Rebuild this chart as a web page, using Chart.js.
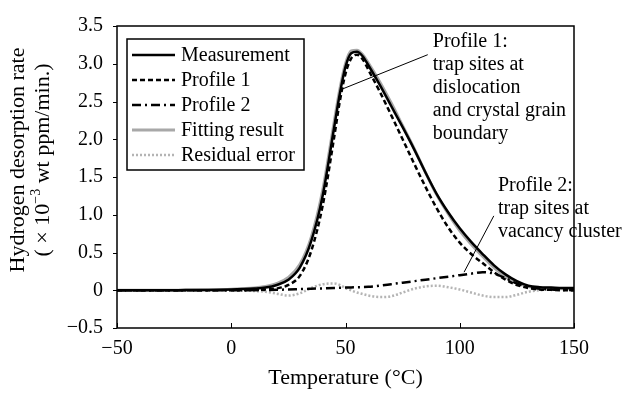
<!DOCTYPE html>
<html>
<head>
<meta charset="utf-8">
<script src="https://cdn.jsdelivr.net/npm/chart.js@4.4.1/dist/chart.umd.min.js"></script>
<style>
  html, body { margin: 0; padding: 0; background: #fff; }
  #wrap { width: 627px; height: 394px; }
</style>
</head>
<body>
<div id="wrap"><canvas id="tdsChart" width="627" height="394"></canvas></div>
<script>
// Temperature (°C)
const temperatures = [-50, -40, -30, -20, -10, 0, 5, 10, 15, 20, 25, 30, 35, 40, 45, 47.5, 50, 52.5, 55, 57.5,
    60, 65, 70, 75, 80, 85, 90, 95, 100, 105, 110, 115, 120, 125, 130, 135, 140, 145, 150];

// Hydrogen desorption rate (x10^-3 wt ppm/min.)
const measurement = [0, 0, 0, 0.002, 0.004, 0.01, 0.015, 0.022, 0.035, 0.07, 0.14, 0.3, 0.65, 1.25, 2.15, 2.6, 2.96, 3.14, 3.16, 3.1,
    2.98, 2.72, 2.44, 2.16, 1.87, 1.56, 1.27, 1.03, 0.82, 0.64, 0.48, 0.33, 0.21, 0.12, 0.06, 0.04, 0.035, 0.03, 0.03];
const profile1 = [0, 0, 0, 0, 0, 0, 0, 0.003, 0.01, 0.025, 0.07, 0.19, 0.52, 1.12, 2.02, 2.5, 2.87, 3.07, 3.12, 3.06,
    2.92, 2.63, 2.32, 2.0, 1.68, 1.37, 1.08, 0.83, 0.63, 0.48, 0.36, 0.24, 0.14, 0.07, 0.03, 0.01, 0.005, 0, 0];
const profile2 = [0, 0, 0, 0, 0, 0, 0, 0.002, 0.004, 0.006, 0.01, 0.015, 0.02, 0.025, 0.03, 0.032, 0.035, 0.037, 0.04, 0.042,
    0.045, 0.06, 0.08, 0.1, 0.12, 0.14, 0.16, 0.18, 0.2, 0.22, 0.24, 0.22, 0.16, 0.09, 0.04, 0.02, 0.01, 0.005, 0];
const fitting = [0, 0, 0, 0.002, 0.005, 0.012, 0.02, 0.03, 0.05, 0.09, 0.17, 0.34, 0.7, 1.32, 2.22, 2.66, 3.0, 3.17, 3.18, 3.12,
    3.01, 2.76, 2.48, 2.18, 1.88, 1.56, 1.26, 1.01, 0.79, 0.61, 0.45, 0.3, 0.18, 0.1, 0.05, 0.03, 0.025, 0.02, 0.02];
const residual = [0, 0, 0, 0, 0, 0, -0.005, -0.01, -0.02, -0.045, -0.07, -0.04, 0.03, 0.08, 0.09, 0.07, 0.03, 0, -0.03, -0.05,
    -0.07, -0.09, -0.08, -0.03, 0.02, 0.05, 0.06, 0.04, 0.01, -0.03, -0.07, -0.09, -0.09, -0.06, -0.02, 0, 0.01, 0.02, 0.02];

const xTicks = [-50, 0, 50, 100, 150];
const yTicks = [-0.5, 0, 0.5, 1.0, 1.5, 2.0, 2.5, 3.0, 3.5];

const FONT = "'Liberation Serif', 'Times New Roman', serif";
const MINUS = '\u2212';

const toPoints = values => temperatures.map((t, i) => ({ x: t, y: values[i] }));

// annotation text and leader lines, anchored in data coordinates
const notes = [
    { lines: ['Profile 1:', 'trap sites at', 'dislocation', 'and crystal grain', 'boundary'],
      at: [88.2, 3.29], from: [86, 3.12], to: [48.2, 2.66] },
    { lines: ['Profile 2:', 'trap sites at', 'vacancy cluster'],
      at: [116.7, 1.39], from: [114.9, 0.985], to: [101.9, 0.24] }
];

// y-axis title with a real superscript
function drawYTitle(ctx, area) {
    const cy = (area.top + area.bottom) / 2 - 17;
    ctx.save();
    ctx.fillStyle = '#000';
    ctx.textBaseline = 'middle';
    ctx.translate(18, cy);
    ctx.rotate(-Math.PI / 2);
    ctx.font = '22px ' + FONT;
    ctx.textAlign = 'center';
    ctx.fillText('Hydrogen desorption rate', 0, 0);

    const parts = [['( \u00d7 10', 22, 0], [MINUS + '3', 14, -7], [' wt ppm/min.)', 22, 0]];
    let total = 0;
    parts.forEach(p => { ctx.font = p[1] + 'px ' + FONT; total += ctx.measureText(p[0]).width; });
    let px = -total / 2;
    ctx.textAlign = 'left';
    parts.forEach(p => {
        ctx.font = p[1] + 'px ' + FONT;
        ctx.fillText(p[0], px, 25 + p[2]);
        px += ctx.measureText(p[0]).width;
    });
    ctx.restore();
}

// frame, tick marks, legend box and notes
const decorPlugin = {
    id: 'decor',
    afterDatasetsDraw(chart) {
        const { ctx, chartArea: a, scales: { x, y } } = chart;
        ctx.save();
        ctx.strokeStyle = '#000';
        ctx.lineWidth = 1.5;
        ctx.strokeRect(a.left, a.top, a.right - a.left, a.bottom - a.top);

        ctx.lineWidth = 1;
        xTicks.forEach(v => {
            const px = Math.round(x.getPixelForValue(v)) + 0.5;
            ctx.beginPath();
            ctx.moveTo(px, a.bottom);
            ctx.lineTo(px, a.bottom - 5);
            ctx.stroke();
        });
        yTicks.forEach(v => {
            const py = Math.round(y.getPixelForValue(v)) + 0.5;
            ctx.beginPath();
            ctx.moveTo(a.left - 4, py);
            ctx.lineTo(a.left, py);
            ctx.stroke();
        });

        // legend
        const lx = a.left + 10, ly = a.top + 13, lw = 177, lh = 131;
        ctx.fillStyle = '#fff';
        ctx.fillRect(lx, ly, lw, lh);
        ctx.lineWidth = 1.5;
        ctx.strokeRect(lx, ly, lw, lh);
        ctx.font = '20px ' + FONT;
        ctx.textBaseline = 'middle';
        ctx.textAlign = 'left';
        chart.data.datasets.forEach((ds, i) => {
            const rowY = ly + 16 + i * 25;
            ctx.strokeStyle = ds.borderColor;
            ctx.lineWidth = ds.borderWidth;
            ctx.setLineDash(ds.borderDash || []);
            ctx.beginPath();
            ctx.moveTo(lx + 5, rowY);
            ctx.lineTo(lx + 48, rowY);
            ctx.stroke();
            ctx.setLineDash([]);
            ctx.fillStyle = '#000';
            ctx.fillText(ds.label, lx + 54, rowY + 1);
        });

        // notes
        ctx.strokeStyle = '#000';
        ctx.lineWidth = 1;
        ctx.font = '20px ' + FONT;
        notes.forEach(n => {
            ctx.beginPath();
            ctx.moveTo(x.getPixelForValue(n.from[0]), y.getPixelForValue(n.from[1]));
            ctx.lineTo(x.getPixelForValue(n.to[0]), y.getPixelForValue(n.to[1]));
            ctx.stroke();
            const tx = x.getPixelForValue(n.at[0]);
            const ty = y.getPixelForValue(n.at[1]);
            n.lines.forEach((line, i) => ctx.fillText(line, tx, ty + i * 23));
        });
        ctx.restore();

        drawYTitle(ctx, a);
    }
};

new Chart(document.getElementById('tdsChart'), {
    type: 'line',
    data: {
        datasets: [
            { label: 'Measurement', data: toPoints(measurement), borderColor: '#000', borderWidth: 2.5, order: 1 },
            { label: 'Profile 1', data: toPoints(profile1), borderColor: '#000', borderWidth: 2.5, borderDash: [5, 3], order: 2 },
            { label: 'Profile 2', data: toPoints(profile2), borderColor: '#000', borderWidth: 2.5, borderDash: [9, 4, 2, 4], order: 3 },
            { label: 'Fitting result', data: toPoints(fitting), borderColor: '#a8a8a8', borderWidth: 3, order: 4 },
            { label: 'Residual error', data: toPoints(residual), borderColor: '#b4b4b4', borderWidth: 2.5, borderDash: [2, 2], order: 5 }
        ]
    },
    options: {
        responsive: false,
        animation: false,
        events: [],
        layout: { padding: { left: 0, right: 53, top: 19, bottom: 0 } },
        elements: {
            point: { radius: 0 },
            line: { fill: false, cubicInterpolationMode: 'monotone' }
        },
        plugins: {
            legend: { display: false },
            tooltip: { enabled: false }
        },
        scales: {
            x: {
                type: 'linear',
                min: -50,
                max: 150,
                afterFit: s => { s.height = 66; },
                afterBuildTicks: s => { s.ticks = xTicks.map(v => ({ value: v })); },
                grid: { display: false, drawTicks: false },
                border: { display: false },
                ticks: {
                    padding: 9,
                    color: '#000',
                    font: { family: FONT, size: 20 },
                    callback: v => (v < 0 ? MINUS + Math.abs(v) : String(v))
                },
                title: {
                    display: true,
                    text: 'Temperature (°C)',
                    color: '#000',
                    font: { family: FONT, size: 22 },
                    padding: { top: 0, bottom: 3 }
                }
            },
            y: {
                min: -0.5,
                max: 3.5,
                afterFit: s => { s.width = 117; },
                afterBuildTicks: s => { s.ticks = yTicks.map(v => ({ value: v })); },
                grid: { display: false, drawTicks: false },
                border: { display: false },
                ticks: {
                    padding: 14,
                    color: '#000',
                    font: { family: FONT, size: 20 },
                    callback: v => (v === 0 ? '0' : (v < 0 ? MINUS : '') + Math.abs(v).toFixed(1))
                }
            }
        }
    },
    plugins: [decorPlugin]
});
</script>
</body>
</html>
